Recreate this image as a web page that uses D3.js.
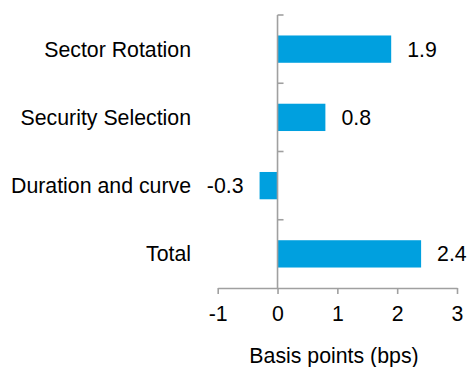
<!DOCTYPE html>
<html>
<head>
<meta charset="utf-8">
<script src="https://cdn.jsdelivr.net/npm/d3@7"></script>
<style>
  html, body { margin: 0; padding: 0; background: #fff; }
  svg { display: block; font-family: "Liberation Sans", Arial, sans-serif; }
</style>
</head>
<body>
<svg id="chart" width="467" height="367"></svg>
<script>
// Attribution components (basis points)
const categories = ["Sector Rotation", "Security Selection", "Duration and curve", "Total"];
const values = [1.9, 0.8, -0.3, 2.4];
const xTicks = [-1, 0, 1, 2, 3];
const xTitle = "Basis points (bps)";

const barColor = "#00A0DF";
const axisColor = "#A0A0A0";
const fontSize = 21.3;

const svg = d3.select("#chart");

const x = d3.scaleLinear().domain([-1, 3]).range([217.7, 457]);
const y = d3.scaleBand()
  .domain(categories)
  .range([15, 288])
  .paddingInner(0.6)
  .paddingOuter(0.3);

// Bars
svg.append("g").selectAll("rect")
  .data(categories)
  .join("rect")
  .attr("x", (d, i) => x(Math.min(0, values[i])))
  .attr("y", d => y(d))
  .attr("width", (d, i) => Math.abs(x(values[i]) - x(0)))
  .attr("height", y.bandwidth())
  .attr("fill", barColor);

// Value labels
svg.append("g").selectAll("text")
  .data(categories)
  .join("text")
  .attr("x", (d, i) => values[i] >= 0 ? x(values[i]) + 16 : x(values[i]) - 16)
  .attr("y", d => y(d) + y.bandwidth() / 2)
  .attr("dy", "0.35em")
  .attr("text-anchor", (d, i) => values[i] >= 0 ? "start" : "end")
  .attr("font-size", fontSize)
  .attr("fill", "#000")
  .text((d, i) => values[i].toFixed(1));

// Category labels
svg.append("g").selectAll("text")
  .data(categories)
  .join("text")
  .attr("x", 191)
  .attr("y", d => y(d) + y.bandwidth() / 2)
  .attr("dy", "0.35em")
  .attr("text-anchor", "end")
  .attr("font-size", fontSize)
  .attr("fill", "#000")
  .text(d => d);

// Vertical axis at zero with inward ticks on category boundaries
const yAxis = svg.append("g");
const [y0, y1] = y.range();
yAxis.append("line")
  .attr("x1", x(0)).attr("x2", x(0))
  .attr("y1", y0).attr("y2", y1)
  .attr("stroke", axisColor).attr("stroke-width", 1.6);
yAxis.selectAll("line.tick")
  .data(categories)
  .join("line")
  .attr("class", "tick")
  .attr("x1", x(0)).attr("x2", x(0) + 6)
  .attr("y1", d => y(d) - y.step() * y.paddingInner() / 2)
  .attr("y2", d => y(d) - y.step() * y.paddingInner() / 2)
  .attr("stroke", axisColor).attr("stroke-width", 1.6);

// Horizontal value axis
const xAxis = svg.append("g")
  .attr("transform", `translate(0,${y1})`)
  .call(d3.axisBottom(x).tickValues(xTicks).tickSize(6).tickSizeOuter(0).tickPadding(12).tickFormat(d => String(d)));
xAxis.select(".domain").attr("stroke", axisColor).attr("stroke-width", 1.6);
xAxis.selectAll(".tick line").attr("stroke", axisColor).attr("stroke-width", 1.6);
xAxis.selectAll(".tick text")
  .attr("font-size", fontSize)
  .attr("font-family", "Liberation Sans, Arial, sans-serif")
  .attr("fill", "#000");

// Axis title
svg.append("text")
  .attr("x", 334)
  .attr("y", 363)
  .attr("text-anchor", "middle")
  .attr("font-size", fontSize)
  .attr("fill", "#000")
  .text(xTitle);
</script>
</body>
</html>
